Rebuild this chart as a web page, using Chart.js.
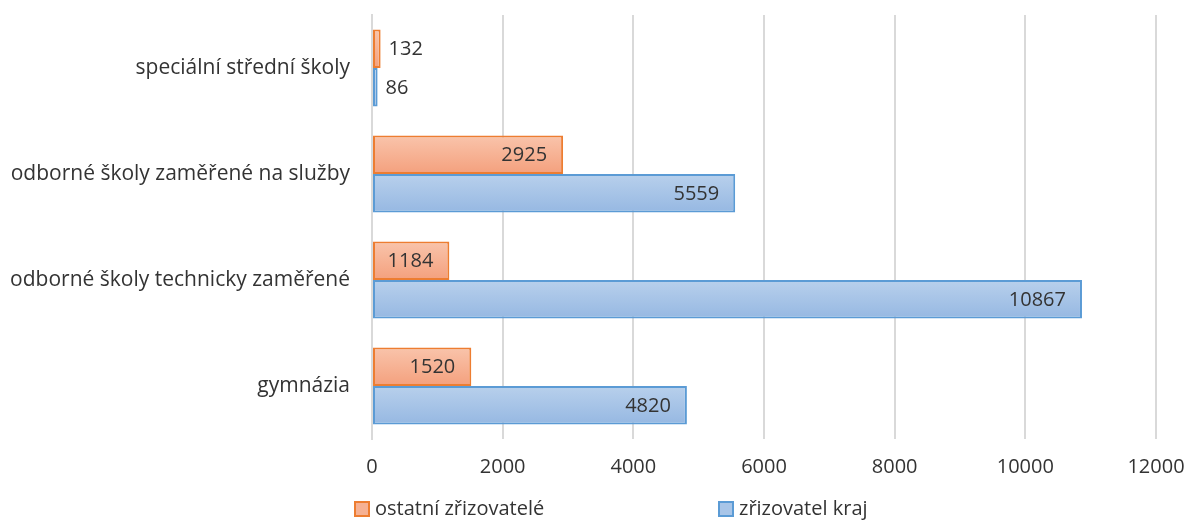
<!DOCTYPE html>
<html lang="cs">
<head>
  <meta charset="UTF-8">
  <title>Školy podle zřizovatele</title>
  <script src="https://cdn.jsdelivr.net/npm/chart.js"></script>
  <style>
    html, body { margin: 0; padding: 0; background: #fff; }
    #wrap { width: 1189px; height: 521px; }
  </style>
</head>
<body>
  <div id="wrap"><canvas id="schoolChart" width="1189" height="521"></canvas></div>

<script>
  // data
  const categories = ['speciální střední školy', 'odborné školy zaměřené na služby', 'odborné školy technicky zaměřené', 'gymnázia']
  const ostatni = [132, 2925, 1184, 1520]
  const kraj = [86, 5559, 10867, 4820]
  const seriesNames = ['ostatní zřizovatelé', 'zřizovatel kraj']
  const xTicks = [0, 2000, 4000, 6000, 8000, 10000, 12000]

  const fontFamily = '"Open Sans", "Liberation Sans", sans-serif'
  const textColor = '#333333'
  const gradients = [['#f9c4ab', '#f4a07d'], ['#b8d0ec', '#96b8e2']]
  const fills = ['#f6b193', '#a8c5e8']
  const strokes = ['#ed7d31', '#5b9bd5']

  // vertical gradient fill on each bar, like the office chart style
  const barGradients = {
    id: 'barGradients',
    beforeDatasetsDraw(chart) {
      const c = chart.ctx
      chart.data.datasets.forEach((ds, di) => {
        chart.getDatasetMeta(di).data.forEach(bar => {
          const g = c.createLinearGradient(0, bar.y - bar.height / 2, 0, bar.y + bar.height / 2)
          g.addColorStop(0, gradients[di][0])
          g.addColorStop(1, gradients[di][1])
          bar.options = Object.assign({}, bar.options, { backgroundColor: g })
        })
      })
    }
  }

  // value labels: inside end when they fit, otherwise just right of the bar
  const valueLabels = {
    id: 'valueLabels',
    afterDatasetsDraw(chart) {
      const c = chart.ctx
      c.save()
      c.font = '20px ' + fontFamily
      c.fillStyle = textColor
      c.textBaseline = 'middle'
      chart.data.datasets.forEach((ds, di) => {
        chart.getDatasetMeta(di).data.forEach((bar, i) => {
          const txt = String(ds.data[i])
          const w = c.measureText(txt).width
          const len = bar.x - bar.base
          if (len > w + 24) {
            c.textAlign = 'right'
            c.fillText(txt, bar.x - 16, bar.y + 1)
          } else {
            c.textAlign = 'left'
            c.fillText(txt, bar.x + 8, bar.y + 1)
          }
        })
      })
      c.restore()
    }
  }

  // legend drawn by hand so the two items sit as far apart as in the original
  const bottomLegend = {
    id: 'bottomLegend',
    afterDraw(chart) {
      const c = chart.ctx
      const xs = [355, 719]
      const y = 509
      c.save()
      c.font = '20px ' + fontFamily
      c.textBaseline = 'middle'
      c.textAlign = 'left'
      seriesNames.forEach((name, i) => {
        c.fillStyle = fills[i]
        c.fillRect(xs[i], y - 7, 14, 14)
        c.strokeStyle = strokes[i]
        c.lineWidth = 2
        c.strokeRect(xs[i], y - 7, 14, 14)
        c.fillStyle = textColor
        c.fillText(name, xs[i] + 20, y)
      })
      c.restore()
    }
  }

  new Chart(document.getElementById('schoolChart'), {
    type: 'bar',
    data: {
      labels: categories,
      datasets: [{
        label: seriesNames[0],
        data: ostatni,
        backgroundColor: fills[0],
        borderColor: strokes[0],
        borderWidth: 2,
        borderSkipped: false
      }, {
        label: seriesNames[1],
        data: kraj,
        backgroundColor: fills[1],
        borderColor: strokes[1],
        borderWidth: 2,
        borderSkipped: false
      }]
    },
    options: {
      indexAxis: 'y',
      responsive: false,
      animation: false,
      categoryPercentage: 0.725,
      barPercentage: 1,
      layout: { padding: { top: 15, right: 33, left: 0, bottom: 37 } },
      scales: {
        x: {
          min: 0,
          max: 12000,
          afterBuildTicks(scale) { scale.ticks = xTicks.map(v => ({ value: v })) },
          grid: { color: '#d9d9d9', lineWidth: 2, drawTicks: false },
          border: { display: false },
          ticks: {
            color: textColor,
            font: { family: fontFamily, size: 20 },
            padding: 16,
            callback: v => String(v)
          },
          afterFit(scale) {
            scale.height = 45
            scale.paddingLeft = 0
            scale.paddingRight = 0
          }
        },
        y: {
          grid: { display: false, drawTicks: false },
          border: { color: '#d9d9d9', width: 2 },
          ticks: { color: textColor, font: { family: fontFamily, size: 21 }, padding: 22 },
          afterFit(scale) {
            scale.width = 372
            scale.paddingTop = 0
            scale.paddingBottom = 0
          }
        }
      },
      plugins: {
        legend: { display: false },
        tooltip: { enabled: false }
      }
    },
    plugins: [barGradients, valueLabels, bottomLegend]
  })
</script>
</body>
</html>
